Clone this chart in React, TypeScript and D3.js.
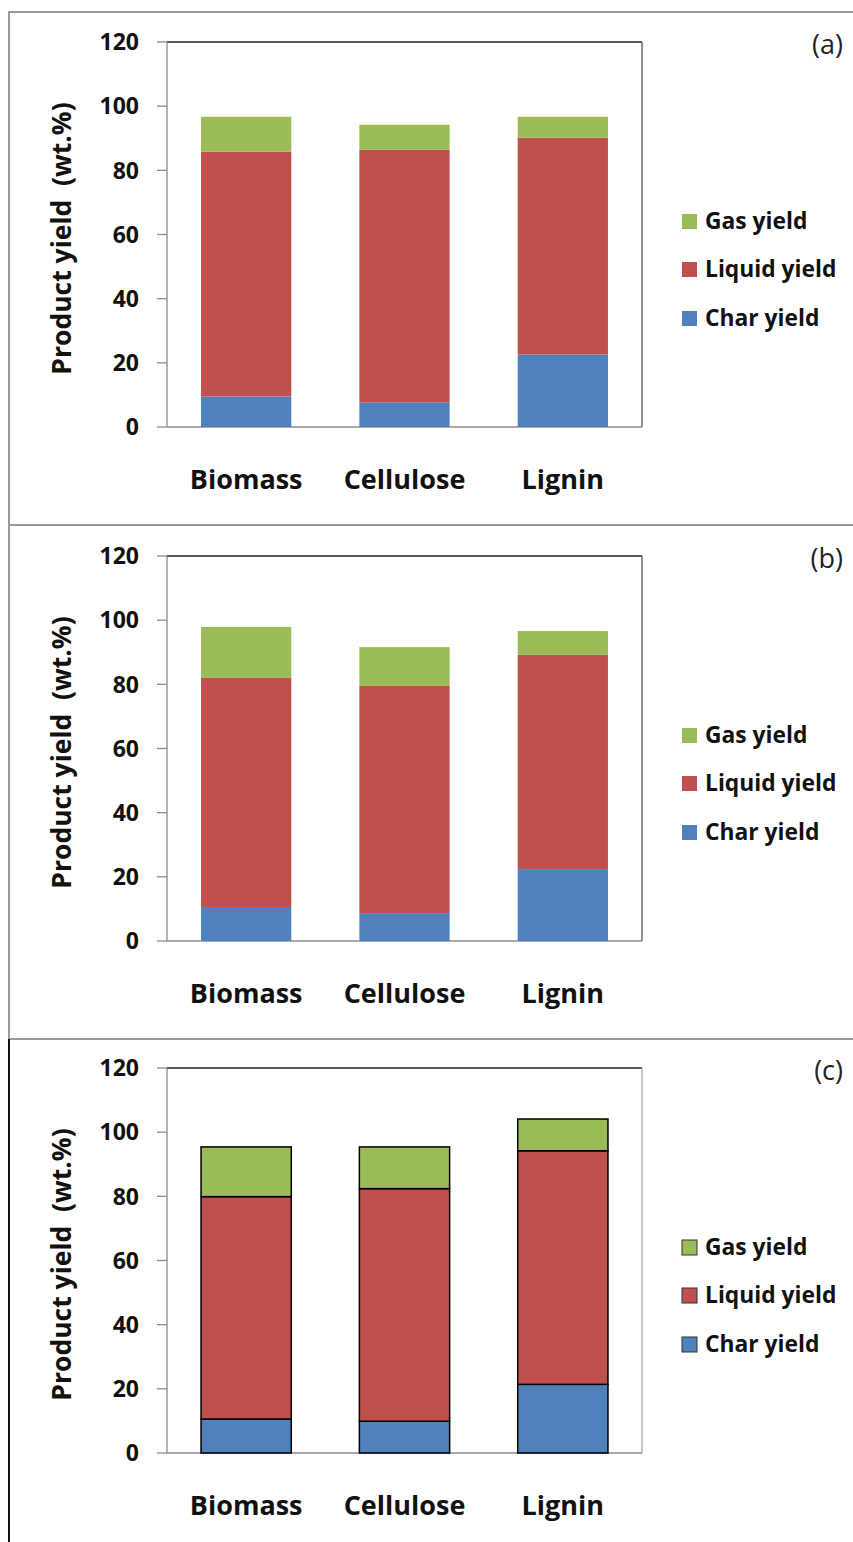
import React from "react";
import * as d3 from "d3";

// Feedstocks on the x axis
const categories = ["Biomass", "Cellulose", "Lignin"];
const seriesKeys = ["char", "liquid", "gas"] as const;
const seriesLabels = { gas: "Gas yield", liquid: "Liquid yield", char: "Char yield" };
const seriesColors = { char: "#4F81BD", liquid: "#C0504D", gas: "#9BBB59" };
const yTicks = [0, 20, 40, 60, 80, 100, 120];

// Product yields (wt.%) per panel, one value per feedstock
const charA = [9.5, 7.7, 22.6];
const liquidA = [76.3, 78.7, 67.6];
const gasA = [10.9, 7.8, 6.5];

const charB = [10.6, 8.7, 22.4];
const liquidB = [71.4, 70.8, 66.8];
const gasB = [15.9, 12.1, 7.4];

const charC = [10.6, 9.9, 21.4];
const liquidC = [69.3, 72.5, 72.8];
const gasC = [15.5, 13.0, 9.9];

const FONT = "'Open Sans', Lato, sans-serif";

type PanelProps = {
  top: number;
  tag: string;
  char: number[];
  liquid: number[];
  gas: number[];
  outlined: boolean;
};

function Panel({ top, tag, char, liquid, gas, outlined }: PanelProps) {
  const left = 167;
  const right = 642;
  const plotTop = top + 30;
  const plotBottom = top + 415;

  const x = d3.scaleBand<string>().domain(categories).range([left, right]).paddingInner(0.43).paddingOuter(0.215);
  const y = d3.scaleLinear().domain([0, 120]).range([plotBottom, plotTop]);

  const rows = categories.map((c, i) => ({ cat: c, char: char[i], liquid: liquid[i], gas: gas[i] }));
  const stack = d3.stack<any>().keys(seriesKeys as unknown as string[]);
  const layers = stack(rows);

  const barStroke = outlined ? "#000" : "none";
  const legendY = [plotTop + 179, plotTop + 227, plotTop + 276];
  const legendOrder = ["gas", "liquid", "char"] as const;

  return (
    <g>
      {/* plot area frame */}
      <line x1={left} x2={right} y1={plotTop} y2={plotTop} stroke="#222" strokeWidth={1.3} />
      <line x1={right} x2={right} y1={plotTop} y2={plotBottom} stroke={outlined ? "#aaa" : "#555"} strokeWidth={1.3} />
      <line x1={left} x2={right} y1={plotBottom} y2={plotBottom} stroke="#8c8c8c" strokeWidth={1.3} />
      <line x1={left} x2={left} y1={plotTop} y2={plotBottom} stroke="#8c8c8c" strokeWidth={1.3} />

      {yTicks.map((t) => (
        <g key={t}>
          <line x1={left - 10} x2={left} y1={y(t)} y2={y(t)} stroke="#8c8c8c" strokeWidth={1.3} />
          <text x={139} y={y(t)} dy="0.36em" textAnchor="end" fontFamily={FONT} fontWeight={700} fontSize={23} fill="#111">
            {t}
          </text>
        </g>
      ))}

      {layers.map((layer) => (
        <g key={layer.key}>
          {layer.map((d, i) => (
            <rect
              key={i}
              x={x(categories[i])}
              width={x.bandwidth()}
              y={y(d[1])}
              height={y(d[0]) - y(d[1])}
              fill={seriesColors[layer.key as keyof typeof seriesColors]}
              stroke={barStroke}
              strokeWidth={outlined ? 1.5 : 0}
            />
          ))}
        </g>
      ))}

      {categories.map((c) => (
        <text
          key={c}
          x={(x(c) ?? 0) + x.bandwidth() / 2}
          y={plotBottom + 62}
          textAnchor="middle"
          fontFamily={FONT}
          fontWeight={700}
          fontSize={27}
          fill="#111"
        >
          {c}
        </text>
      ))}

      <text
        transform={`translate(62,${(plotTop + plotBottom) / 2 + 4}) rotate(-90)`}
        textAnchor="middle"
        dy="0.35em"
        fontFamily={FONT}
        fontWeight={700}
        fontSize={26.5}
        fill="#111"
        style={{ whiteSpace: "pre" }}
      >
        {"Product yield  (wt.%)"}
      </text>

      {legendOrder.map((k, i) => (
        <g key={k}>
          <rect
            x={682}
            y={legendY[i] - 7}
            width={15}
            height={15}
            fill={seriesColors[k]}
            stroke={outlined ? "#333" : "none"}
            strokeWidth={1}
          />
          <text x={705} y={legendY[i]} dy="0.36em" fontFamily={FONT} fontWeight={700} fontSize={22.8} fill="#111">
            {seriesLabels[k]}
          </text>
        </g>
      ))}

      <text x={843} y={plotTop + 2} dy="0.36em" textAnchor="end" fontFamily={FONT} fontSize={27} fill="#222">
        {tag}
      </text>
    </g>
  );
}

export default function App() {
  return (
    <svg
      width={853}
      height={1542}
      style={{ position: "absolute", left: 0, top: 0, background: "#fff" }}
    >
      <rect x={0} y={0} width={853} height={1542} fill="#fff" />
      {/* panel frames */}
      <rect x={9} y={12} width={900} height={513} fill="none" stroke="#999" strokeWidth={2} />
      <rect x={9} y={525} width={900} height={514} fill="none" stroke="#999" strokeWidth={2} />
      <line x1={9} x2={9} y1={1039} y2={1542} stroke="#111" strokeWidth={2} />

      <Panel top={12} tag="(a)" char={charA} liquid={liquidA} gas={gasA} outlined={false} />
      <Panel top={526} tag="(b)" char={charB} liquid={liquidB} gas={gasB} outlined={false} />
      <Panel top={1038} tag="(c)" char={charC} liquid={liquidC} gas={gasC} outlined={true} />
    </svg>
  );
}
